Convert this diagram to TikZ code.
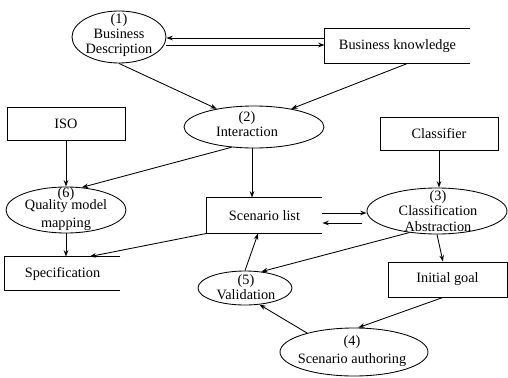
\documentclass[tikz,border=0pt]{standalone}
\usepackage{fontspec}
\setmainfont{Liberation Serif}
\usetikzlibrary{shapes.geometric,arrows.meta}

\tikzset{
  ell/.style 2 args={ellipse, draw, inner sep=0pt,
    minimum width=#1*0.7pt, minimum height=#2*0.7pt},
  box/.style 2 args={rectangle, draw, inner sep=0pt,
    minimum width=#1*0.7pt, minimum height=#2*0.7pt},
  obox/.style 2 args={rectangle, inner sep=0pt,
    minimum width=#1*0.7pt, minimum height=#2*0.7pt},
  txt/.style={align=center, inner sep=0pt},
  arr/.style={-{Stealth[length=4.5pt,width=3.2pt]}},
}

\begin{document}
\begin{tikzpicture}[x=0.7pt, y=-0.7pt, line width=0.6pt,
  font=\fontsize{10}{10.5}\selectfont]
\useasboundingbox (0,0) rectangle (508,378);

% process steps (ellipses) and their labels
\node[ell={94}{52}]  (n1) at (119,37)  {};
\node[txt] (t1) at (119,35) {(1)\\Business\\Description};

\node[ell={140}{42}] (n2) at (254,127) {};
\node[txt] (t2) at (247,124) {(2)\\Interaction};

\node[ell={140}{46}] (n3) at (437,211) {};
\node[txt] (t3) at (438,211) {(3)\\Classification\\[1pt]Abstraction};

\node[ell={148}{48}] (n4) at (354,352) {};
\node[txt] (t4) at (352,351) {(4)\\[2pt]Scenario authoring};

\node[ell={94}{34}]  (n5) at (245,288) {};
\node[txt] (t5) at (246,287) {(5)\\Validation};

\node[ell={120}{46}] (n6) at (66,210)  {};
\node[txt] (t6) at (66,209) {(6)\\[-2pt]Quality model\\[1.5pt]mapping};

% artefacts (boxes)
\node[obox={145}{34}] (bk) at (397.5,46) {Business knowledge};
\draw (bk.north east) -- (bk.north west) -- (bk.south west) -- (bk.south east);

\node[box={118}{33}] (iso) at (66,123.5) {ISO};
\node[box={118}{33}] (cls) at (439,133.5) {Classifier};

\node[obox={115}{35}] (sl) at (264.5,215.5) {Scenario list};
\draw (sl.north east) -- (sl.north west) -- (sl.south west) -- (sl.south east);

\node[obox={115}{33}] (spec) at (62.5,273.5) {Specification};
\draw (spec.north east) -- (spec.north west) -- (spec.south west) -- (spec.south east);

\node[box={119}{35}] (ig) at (447.5,279.5) {Initial goal};

% connectors
\draw[arr] ([yshift=-5.6pt]n1.east) -- ([yshift=-5.6pt]n1.east -| bk.west);
\draw[arr] ([yshift=5.6pt]bk.west) -- ([yshift=5.6pt]bk.west -| n1.east);

\draw[arr] (n1.south) -- (n2.154);
\draw[arr] ([xshift=7pt]bk.south) -- (n2.26);

\draw[arr] (iso.south) -- (n6.north);
\draw[arr] (n2.222) -- (n6.55);
\draw[arr] ([xshift=-1.4pt]n2.south) -- ([xshift=-1.4pt]n2.south |- sl.north);

\draw[arr] (cls.south) -- (cls.south |- n3.north);

\draw[arr] ([yshift=1.75pt]sl.east) -- ([yshift=1.75pt]sl.east -| n3.west);
\draw[arr] ([xshift=-3pt,yshift=-8.4pt]n3.west) -- ([yshift=-8.4pt]n3.west -| sl.east);

\draw[arr] (n6.south) -- (n6.south |- spec.north);
\draw[arr] (sl.south west) -- ([xshift=19pt]spec.north);

\draw[arr] (n3.south) -- ([xshift=-3.2pt]ig.north);
\draw[arr] (n3.218) -- (n5.45);
\draw[arr] (n5.north) -- ([xshift=-4.5pt]sl.south);

\draw[arr] ([xshift=-3.2pt]ig.south) -- (n4.80);
\draw[arr] (n4.158) -- (n5.-49);
\end{tikzpicture}
\end{document}
